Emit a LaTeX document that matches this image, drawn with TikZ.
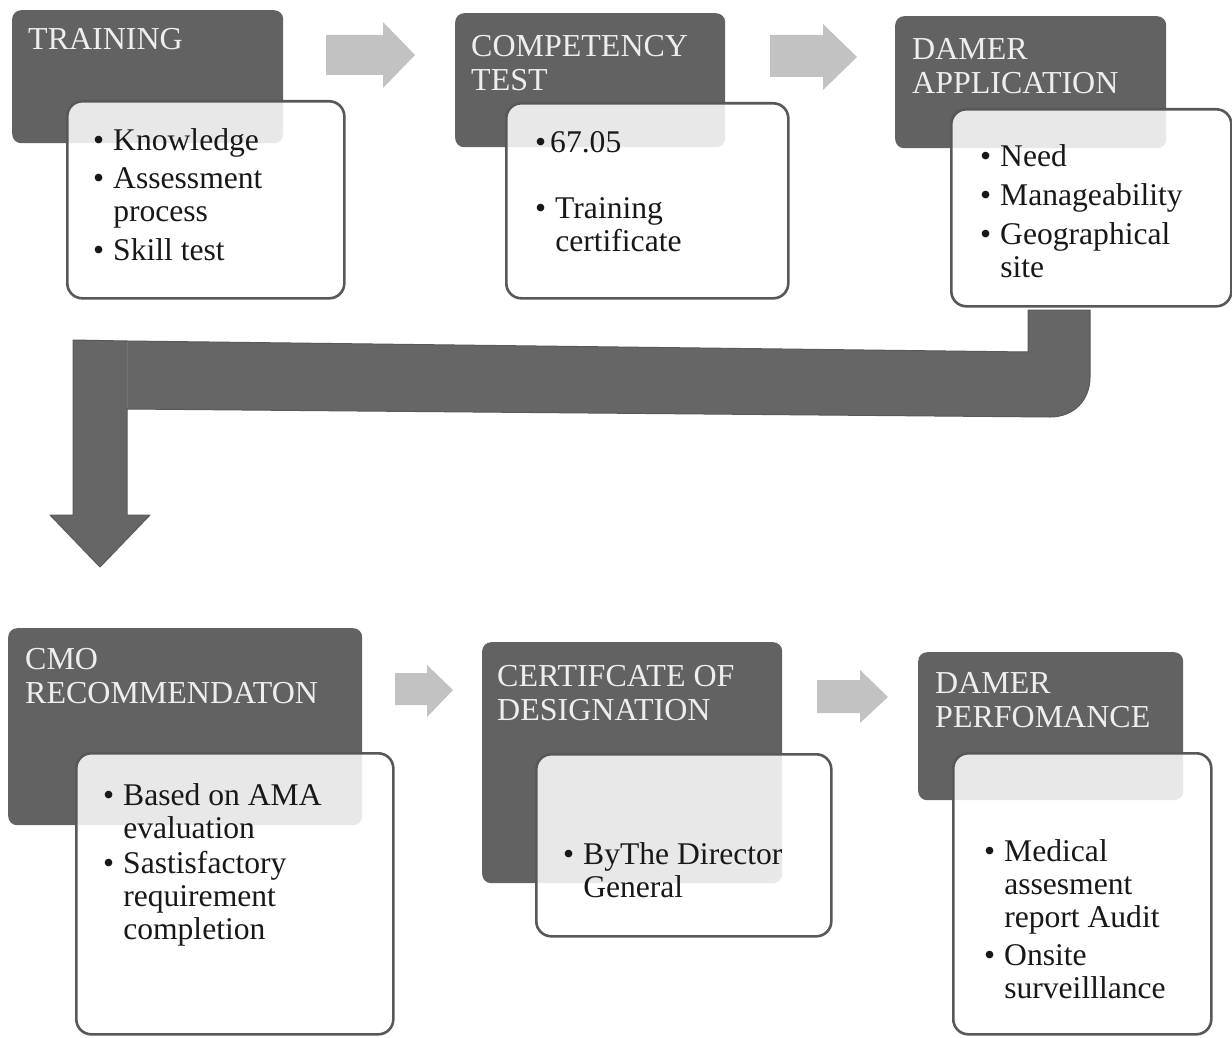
\documentclass[tikz,border=0pt]{standalone}
\usepackage{fontspec}
\setmainfont{Liberation Serif}
\definecolor{darkg}{RGB}{98,98,98}
\definecolor{boxline}{RGB}{88,88,88}
\definecolor{arrowg}{RGB}{194,194,194}
\definecolor{bigarrow}{RGB}{102,102,102}
\definecolor{headtxt}{RGB}{238,238,238}
\definecolor{bodytxt}{RGB}{24,24,24}
\tikzset{
  darkbox/.style={fill=darkg, rounded corners=9pt, inner sep=0pt, anchor=north west},
  whitebox/.style={draw=boxline, line width=2.6pt, fill=white, fill opacity=0.86, draw opacity=1, rounded corners=15pt, inner sep=0pt, anchor=north west},
  headtext/.style={text=headtxt, font=\fontsize{32}{34}\selectfont, anchor=base west, inner sep=0pt},
  bodytext/.style={text=bodytxt, font=\fontsize{31.6}{33}\selectfont, anchor=base west, inner sep=0pt},
  flowarrow/.style={fill=arrowg},
  bentarrow/.style={fill=bigarrow, draw=black!65, line width=1pt, line join=round}
}
\newcommand{\hd}[1]{\begin{tabular}[t]{@{}l@{}}#1\end{tabular}}
\newcommand{\bl}[1]{\begin{tabular}[t]{@{}l@{\hspace{9pt}}l@{}}#1\end{tabular}}
\begin{document}
\begin{tikzpicture}[x=1pt,y=-1pt]
\useasboundingbox[fill=white] (0,0) rectangle (1232,1038);

% ---- row 1 ----
\node[darkbox, minimum width=271pt, minimum height=133pt] (t1) at (12,10) {};
\node[darkbox, minimum width=270pt, minimum height=134pt] (t2) at (455,13) {};
\node[darkbox, minimum width=271pt, minimum height=132pt] (t3) at (895,16) {};
\node[whitebox, minimum width=277pt, minimum height=197pt] (w1) at (66,100) {};
\node[whitebox, minimum width=282pt, minimum height=195pt] (w2) at (505,102) {};
\node[whitebox, minimum width=280pt, minimum height=197pt] (w3) at (950,108) {};

\node[headtext] (h1) at (28,50) {\hd{TRAINING}};
\node[headtext] (h2) at (471,57) {\hd{COMPETENCY\\TEST}};
\node[headtext] (h3) at (912,60) {\hd{DAMER\\APPLICATION}};

\node[bodytext] (b1) at (93,150) {\bl{\textbullet & Knowledge\\[6pt] \textbullet & Assessment\\ & process\\[6pt] \textbullet & Skill test}};
\node[bodytext] (b2) at (535,153) {\bl{\textbullet & \hspace{-5pt}67.05\\[33pt] \textbullet & Training\\ & certificate}};
\node[bodytext] (b3) at (980,167) {\bl{\textbullet & Need\\[6pt] \textbullet & Manageability\\[6pt] \textbullet & Geographical\\ & site}};

\fill[flowarrow] (326,35) -- (383,35) -- (383,22) -- (415,55) -- (383,88) -- (383,75) -- (326,75) -- cycle;
\fill[flowarrow] (770,35) -- (823,35) -- (823,24) -- (857,57) -- (823,90) -- (823,77) -- (770,77) -- cycle;

% ---- bent arrow ----
\draw[bentarrow] (1028,310) -- (1090,310) -- (1090,377)
   .. controls (1090,400) and (1074,417) .. (1050,417)
   -- (127,409) -- (127,515) -- (150,515) -- (100,567) -- (50,515) -- (73,515)
   -- (73,340) -- (127,341) -- (1028,352) -- cycle;
\draw[black!55, line width=0.8pt] (127,342) -- (127,408);

% ---- row 2 ----
\node[darkbox, minimum width=354pt, minimum height=197pt] (t4) at (8,628) {};
\node[darkbox, minimum width=300pt, minimum height=241pt] (t5) at (482,642) {};
\node[darkbox, minimum width=265pt, minimum height=148pt] (t6) at (918,652) {};
\node[whitebox, minimum width=317pt, minimum height=281pt] (w4) at (75,752) {};
\node[whitebox, minimum width=295pt, minimum height=182pt] (w5) at (535,753) {};
\node[whitebox, minimum width=258pt, minimum height=281pt] (w6) at (952,752) {};

\node[headtext] (h4) at (25,669) {\hd{CMO\\RECOMMENDATON}};
\node[headtext] (h5) at (497,686) {\hd{CERTIFCATE OF\\DESIGNATION}};
\node[headtext] (h6) at (935,693) {\hd{DAMER\\PERFOMANCE}};

\node[bodytext] (b4) at (103,805) {\bl{\textbullet & Based on AMA\\ & evaluation\\[2pt] \textbullet & Sastisfactory\\ & requirement\\ & completion}};
\node[bodytext] (b5) at (563,864) {\bl{\textbullet & ByThe Director\\ & General}};
\node[bodytext] (b6) at (984,861) {\bl{\textbullet & Medical\\ & assesment\\ & report Audit\\[5pt] \textbullet & Onsite\\ & surveilllance}};

\fill[flowarrow] (395,673) -- (427,673) -- (427,665) -- (453,690) -- (427,717) -- (427,705) -- (395,705) -- cycle;
\fill[flowarrow] (817,680) -- (860,680) -- (860,670) -- (888,697) -- (860,723) -- (860,713) -- (817,713) -- cycle;
\end{tikzpicture}
\end{document}
